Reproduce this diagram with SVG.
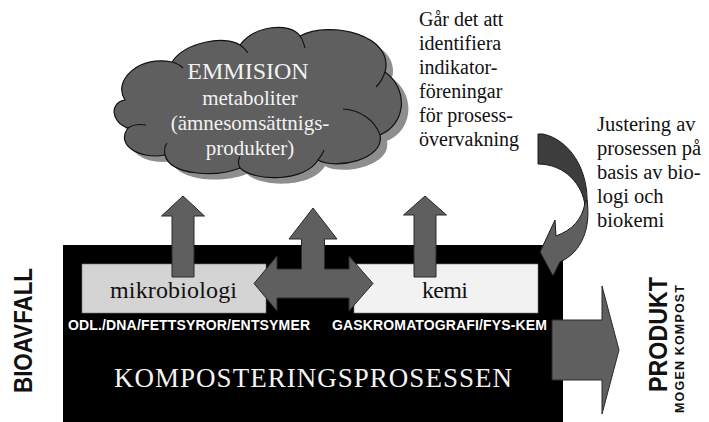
<svg xmlns="http://www.w3.org/2000/svg" width="709" height="422" viewBox="0 0 709 422">
<style>
.serif{font-family:"Liberation Serif","Times New Roman",serif}
.sans{font-family:"Liberation Sans",Arial,sans-serif;font-weight:bold}
.arrow{fill:#5f5f5f;stroke:#2a2a2a;stroke-width:1;stroke-linejoin:miter}
.wt{fill:#f2f2f2}
.bk{fill:#111}
</style>
<rect width="709" height="422" fill="#fff"/>

<g id="cloud">
  <path transform="translate(7,6)" fill="#8e8e8e" d="M125,100 C112,80 140,55 172,62 C185,42 225,35 240,45 C255,25 290,22 300,36 C330,20 395,35 385,72 C410,90 405,125 380,135 C385,160 335,170 318,160 C305,182 255,182 240,168 C215,178 170,175 165,155 C140,160 115,145 128,128 C110,122 110,102 125,100 Z"/>
  <path fill="#5f5f5f" stroke="#111" stroke-width="1.2" d="M125,100 C112,80 140,55 172,62 C185,42 225,35 240,45 C255,25 290,22 300,36 C330,20 395,35 385,72 C410,90 405,125 380,135 C385,160 335,170 318,160 C305,182 255,182 240,168 C215,178 170,175 165,155 C140,160 115,145 128,128 C110,122 110,102 125,100 Z"/>
  <g fill="none" stroke="#111" stroke-width="1.1">
    <path d="M128,128 C134,124 140,124 146,125"/>
    <path d="M165,155 C164,150 165,146 167,143"/>
    <path d="M240,168 C238,164 238,160 240,156"/>
    <path d="M318,160 C321,156 323,153 324,150"/>
    <path d="M380,135 C375,120 360,110 343,109"/>
    <path d="M385,72 C383,78 380,83 376,87"/>
    <path d="M300,36 C303,40 304,44 305,48"/>
    <path d="M240,45 C243,47 246,50 248,53"/>
    <path d="M172,62 C176,63 180,65 183,68"/>
  </g>
  <text class="serif wt" x="248" y="79" font-size="24" text-anchor="middle">EMMISION</text>
  <text class="serif wt" x="250" y="105" font-size="21" text-anchor="middle">metaboliter</text>
  <text class="serif wt" x="250" y="130" font-size="21" text-anchor="middle">(ämnesomsättnigs-</text>
  <text class="serif wt" x="250" y="155" font-size="21" text-anchor="middle">produkter)</text>
</g>

<g id="question">
  <text class="serif bk" font-size="20">
    <tspan x="419" y="26">Går det att</tspan>
    <tspan x="419" y="50">identifiera</tspan>
    <tspan x="419" y="74">indikator-</tspan>
    <tspan x="419" y="98">föreningar</tspan>
    <tspan x="419" y="122">för prosess-</tspan>
    <tspan x="419" y="146">övervakning</tspan>
  </text>
</g>

<g id="adjust">
  <text class="serif bk" font-size="20.5">
    <tspan x="597" y="131">Justering av</tspan>
    <tspan x="597" y="155">prosessen på</tspan>
    <tspan x="597" y="179">basis av bio-</tspan>
    <tspan x="597" y="203">logi och</tspan>
    <tspan x="597" y="227">biokemi</tspan>
  </text>
</g>

<g id="process">
  <rect x="63" y="245" width="500" height="180" fill="#000"/>
  <text class="sans" x="68" y="330" font-size="14" fill="#fff" textLength="242">ODL./DNA/FETTSYROR/ENTSYMER</text>
  <text class="sans" x="332" y="330" font-size="14" fill="#fff" textLength="215">GASKROMATOGRAFI/FYS-KEM</text>
  <text class="serif" x="114" y="387" font-size="27" fill="#f4f4f4" textLength="398">KOMPOSTERINGSPROSESSEN</text>
</g>

<g id="mikrobiologi">
  <rect x="82" y="264" width="184" height="49" fill="#d4d4d4" stroke="#777" stroke-width="0.6"/>
  <text class="serif bk" x="110" y="298" font-size="24" textLength="127">mikrobiologi</text>
</g>

<g id="kemi">
  <rect x="354" y="264" width="184" height="49" fill="#f2f2f2" stroke="#777" stroke-width="0.6"/>
  <text class="serif bk" x="422" y="298" font-size="24" textLength="46">kemi</text>
</g>

<g id="bioavfall">
  <text class="sans" transform="translate(32,330.5) rotate(-90)" x="0" y="0" font-size="25" text-anchor="middle" fill="#111" textLength="125" lengthAdjust="spacingAndGlyphs">BIOAVFALL</text>
</g>

<g id="produkt">
  <text class="sans" transform="translate(667,334.5) rotate(-90)" x="0" y="0" font-size="25" text-anchor="middle" fill="#111" textLength="115" lengthAdjust="spacingAndGlyphs">PRODUKT</text>
  <text class="sans" transform="translate(684,349) rotate(-90)" x="0" y="0" font-size="12.5" text-anchor="middle" fill="#111" textLength="128">MOGEN KOMPOST</text>
</g>

<g id="connectors">
  <path class="arrow" d="M183,196 L204.5,216 L194,216 L194,277 L172,277 L172,216 L161.5,216 Z"/>
  <path class="arrow" d="M425,196 L446.5,215 L436,215 L436,277 L414,277 L414,215 L403.5,215 Z"/>
  <path class="arrow" d="M313,208 L337,239 L324.5,239 L324.5,269 L349,269 L349,256 L373,283.5 L349,311 L349,298 L277,298 L277,311 L254,283.5 L277,256 L277,269 L301.5,269 L301.5,239 L289,239 Z"/>
  <path class="arrow" d="M552,320 L602,320 L602,286 L619,350 L602,414 L602,380 L552,380 Z"/>
  <path fill="#3d3d3d" stroke="#1a1a1a" stroke-width="1" d="M538,134 L543,134 C570,140 589,170 587,206 L585,206 C583,185 565,164 538,164 Z"/>
  <path fill="#5f5f5f" stroke="#1a1a1a" stroke-width="1" d="M587,200 C591,228 582,252 560,262 L553,276 L540,252 L555,220 L556,236 C572,230 582,220 585,203 Z"/>
</g>
</svg>
